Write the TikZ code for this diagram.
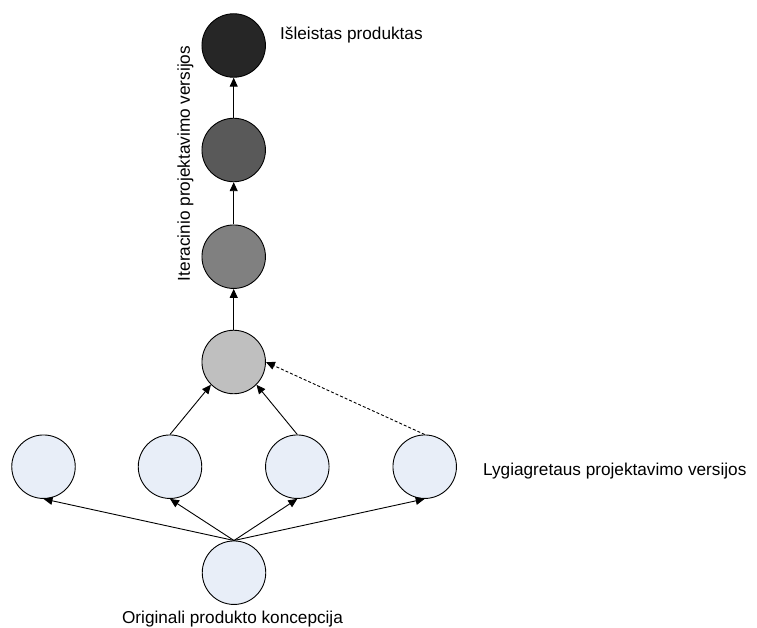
\documentclass[tikz,border=0pt]{standalone}
\usepackage{fontspec}
\setmainfont{Liberation Sans}
\usetikzlibrary{arrows.meta}
\definecolor{lightver}{RGB}{232,238,248}
\definecolor{stageA}{RGB}{191,191,191}
\definecolor{stageB}{RGB}{128,128,128}
\definecolor{stageC}{RGB}{89,89,89}
\definecolor{stageD}{RGB}{38,38,38}
\begin{document}
\begin{tikzpicture}[x=1pt,y=-1pt,
  ver/.style={circle,draw=black,line width=0.9pt,minimum size=63.5pt,inner sep=0pt},
  lbl/.style={font=\fontsize{17.2}{20}\selectfont,inner sep=0pt},
  link/.style={line width=0.9pt,-{Triangle[length=9pt,width=8pt]}},
  dlink/.style={link,dash pattern=on 3pt off 2pt}]
\useasboundingbox (0,0) rectangle (757,628);

% iterative chain
\node[ver,fill=stageD] (it4) at (233.7,45.5) {};
\node[ver,fill=stageC] (it3) at (233.7,150) {};
\node[ver,fill=stageB] (it2) at (233.7,256.7) {};
\node[ver,fill=stageA] (it1) at (233.7,362) {};

% parallel versions
\node[ver,fill=lightver] (p1) at (43.5,466.7) {};
\node[ver,fill=lightver] (p2) at (170,466.7) {};
\node[ver,fill=lightver] (p3) at (297.3,466.7) {};
\node[ver,fill=lightver] (p4) at (424.7,466.7) {};

% original concept
\node[ver,fill=lightver] (orig) at (234,572.7) {};

% labels
\node[lbl,anchor=west] (tRel) at (280,35) {Išleistas produktas};
\node[lbl,anchor=west] (tPar) at (483,471.5) {Lygiagretaus projektavimo versijos};
\node[lbl] (tOrig) at (232.5,619) {Originali produkto koncepcija};
\node[lbl,rotate=90] (tIt) at (185.5,163.5) {Iteracinio projektavimo versijos};

% connectors
\draw[link] (orig.north) -- (p1.south);
\draw[link] (orig.north) -- (p2.south);
\draw[link] (orig.north) -- (p3.south);
\draw[link] (orig.north) -- (p4.south);

\draw[link] (p2.north) -- (it1.south west);
\draw[link] (p3.north) -- (it1.south east);
\draw[dlink] (p4.north) -- (it1.east);

\draw[link] (it1.north) -- (it2.south);
\draw[link] (it2.north) -- (it3.south);
\draw[link] (it3.north) -- (it4.south);
\end{tikzpicture}
\end{document}
